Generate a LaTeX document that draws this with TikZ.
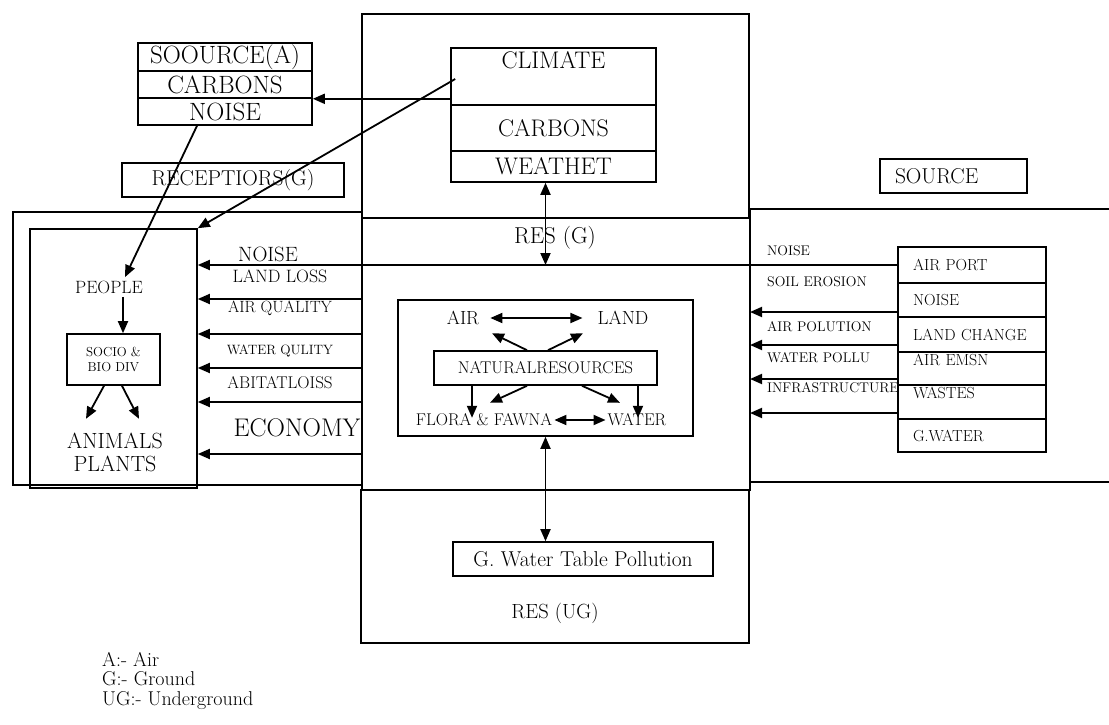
\documentclass[tikz,border=0pt]{standalone}
\usepackage{fontspec}
\usetikzlibrary{arrows.meta,positioning}
\newcommand{\fsz}[1]{\fontsize{#1}{#1}\selectfont}

\begin{document}
\begin{tikzpicture}[x=1pt,y=-1pt,
	box/.style={draw,line width=1.6pt,inner sep=0pt},
	rcell/.style={box,minimum height=#1,text width=118pt,align=left,inner xsep=15pt,font=\fsz{16}},
	rl/.style={anchor=west,inner sep=0pt,font=\fsz{14}},
	arr/.style={line width=1.8pt,-{Triangle[length=12pt,width=10pt]}},
	darr/.style={line width=1.8pt,{Triangle[length=12pt,width=10pt]}-{Triangle[length=12pt,width=10pt]}}]
	\useasboundingbox (0,0) rectangle (1109,725);
	% air / ground / underground zones
	\node[box,minimum width=387pt,minimum height=204pt] (zoneA) at (555.5,116) {};
	\node[box,minimum width=388pt,minimum height=272pt] (zoneG) at (556,354) {};
	\node[box,minimum width=388pt,minimum height=153pt] (zoneU) at (555,566.5) {};
	\node[font=\fsz{23}] (resg) at (555,238) {RES (G)};
	\node[font=\fsz{20.5}] (resug) at (555,613) {RES (UG)};
	\draw[line width=1.6pt] (1112,209) -- (750,209) -- (750,482) -- (1112,482);
	% receptors
	\node[box,minimum width=349pt,minimum height=273pt] (outer) at (187.5,348.5) {};
	\node[box,minimum width=167pt,minimum height=259pt] (inner) at (113.5,358.5) {};
	\node[box,minimum width=222pt,minimum height=34pt,font=\fsz{21.5}] (recep) at (233,180) {RECEPTIORS(G)};
	\node[font=\fsz{17.8}] (people) at (109,287) {PEOPLE};
	\node[box,minimum width=93pt,minimum height=51pt,align=center,font={\fontsize{13}{15}\selectfont}] (socio) at (113.5,359.5) {SOCIO \&\\BIO DIV};
	\node[align=center,font={\fontsize{22}{23}\selectfont}] (animals) at (115,452) {ANIMALS\\PLANTS};
	% source (A)
	\node[box,minimum width=174pt,minimum height=28pt,font=\fsz{25}] (srcA) at (225,57) {SOOURCE(A)};
	\node[box,minimum width=174pt,minimum height=27pt,font=\fsz{25}] (srcC) at (225,84.5) {CARBONS};
	\node[box,minimum width=174pt,minimum height=27pt,font=\fsz{25}] (srcN) at (225,111.5) {NOISE};
	% climate
	\node[box,minimum width=205pt,minimum height=57pt,text height=20pt,text depth=35pt,font=\fsz{24}] (clim) at (553.5,76.5) {CLIMATE};
	\node[box,minimum width=205pt,minimum height=46pt,font=\fsz{24}] (climC) at (553.5,128) {CARBONS};
	\node[box,minimum width=205pt,minimum height=31pt,font=\fsz{24}] (climW) at (553.5,166.5) {WEATHET};
	% natural resources
	\node[box,minimum width=295pt,minimum height=136pt] (natural) at (545.5,368) {};
	\node[font=\fsz{19},inner sep=2pt] (air) at (463,318) {AIR};
	\node[font=\fsz{19},inner sep=2pt] (land) at (623,318) {LAND};
	\node[box,minimum width=223pt,minimum height=34pt,font=\fsz{17}] (nr) at (545.5,368) {NATURALRESOURCES};
	\node[font=\fsz{17},inner sep=2pt] (flora) at (484,420) {FLORA \& FAWNA};
	\node[font=\fsz{17},inner sep=2pt] (water) at (637,420) {WATER};
	\node[box,minimum width=260pt,minimum height=34pt,font=\fsz{21.5}] (gwater) at (583,559) {G. Water Table Pollution};
	% source (G)
	\node[box,minimum height=34pt,text width=117pt,inner xsep=15pt,align=left,font=\fsz{21.5}] (source) at (953.5,176) {SOURCE};
	\node[rcell=36pt] (aport) at (972,265) {AIR PORT};
	\node[rcell=34pt] (rnoise) at (972,300) {NOISE};
	\node[rcell=35pt] (lchange) at (972,334.5) {LAND CHANGE};
	\node[rcell=33pt,text height=11pt,text depth=17pt] (emsn) at (972,368.5) {AIR EMSN};
	\node[rcell=34pt,text height=11pt,text depth=18pt] (wastes) at (972,402) {WASTES};
	\node[rcell=33pt] (gwat) at (972,435.5) {G.WATER};
	\node[rl] (rNoise) at (767,251) {NOISE};
	\node[rl] (rSoil) at (767,282) {SOIL EROSION};
	\node[rl] (rAir) at (767,327) {AIR POLUTION};
	\node[rl] (rWater) at (767,358) {WATER POLLU};
	\node[rl] (rInfra) at (767,388) {INFRASTRUCTURE};
	% impacts on receptors
	\node[font=\fsz{20.7}] (lNoise) at (268,254) {NOISE};
	\node[font=\fsz{17.9}] (lLand) at (280,276) {LAND LOSS};
	\node[font=\fsz{16.3}] (lAir) at (280,308) {AIR QUALITY};
	\node[font=\fsz{13.5}] (lWater) at (280,351) {WATER QULITY};
	\node[font=\fsz{17}] (lHab) at (280,383) {ABITATLOISS};
	\node[font=\fsz{25.5}] (lEco) at (297,428) {ECONOMY};
	% legend
	\node[anchor=north west,align=left,inner sep=0pt,font={\fontsize{20}{19.5}\selectfont}] (legend) at (102,652) {A:- Air\\G:- Ground\\UG:- Underground};

	\draw[arr] (clim.west |- srcC.south east) -- (srcC.south east);
	\draw[arr] ([xshift=5pt,yshift=-2.5pt]clim.west) -- (inner.north east);
	\draw[arr] ([xshift=-28pt]srcN.south) -- ([xshift=16pt]people.north);
	\draw[arr] ([xshift=14pt]people.south) -- ([xshift=9.5pt]socio.north);
	\draw[arr] ([xshift=-9.5pt]socio.south) -- ++(-18,33);
	\draw[arr] ([xshift=8.5pt]socio.south) -- ++(17,33);
	\draw[darr] (climW.south -| natural.south) -- (natural.south |- aport.west);
	\draw[arr] (aport.west) -- (inner.east |- aport.west);
	\foreach \y in {312,345,379,413}
	\draw[arr] (aport.west |- 0,\y) -- (750,\y);
	\foreach \y in {299,334,368,402,454}
	\draw[arr] (zoneG.west |- 0,\y) -- (inner.east |- 0,\y);
	\draw[darr] ([xshift=9pt]air.east) -- ([xshift=-13pt]land.west);
	\draw[arr] ([xshift=-18.5pt]nr.north) -- ++(-35,-17);
	\draw[arr] ([xshift=2.5pt]nr.north) -- ++(35,-17);
	\draw[arr] ([xshift=-18.5pt]nr.south) -- ++(-37,17);
	\draw[arr] ([xshift=36.5pt]nr.south) -- ++(38,17);
	\draw[arr] ([xshift=-73.5pt]nr.south) -- ++(0,32);
	\draw[arr] ([xshift=92.5pt]nr.south) -- ++(0,32);
	\draw[darr] (flora.east) -- (water.west);
	\draw[darr] (natural.south) -- (natural.south |- gwater.north);
\end{tikzpicture}
\end{document}
